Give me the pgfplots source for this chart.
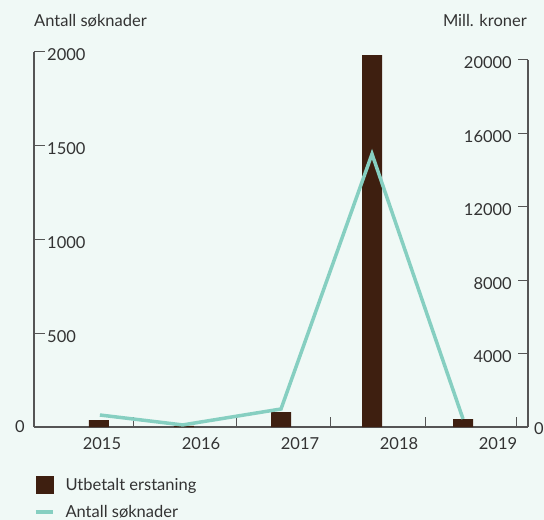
\documentclass[border=0pt]{standalone}
\usepackage{fontspec}
\setmainfont{Lato}
\usepackage{pgfplots}
\pgfplotsset{compat=1.18}
\definecolor{bgc}{HTML}{F0F9F6}
\definecolor{barc}{HTML}{3E1F10}
\definecolor{linec}{HTML}{86CFC1}
\definecolor{axc}{HTML}{555555}
\definecolor{textc}{HTML}{333333}
\newcommand{\fs}{\fontsize{16.5bp}{19bp}\selectfont}
\pgfplotsset{every axis/.append style={font=\fs, /pgf/number format/assume math mode=true,
  tick label style={text=textc, font=\fs}}}
\begin{document}
\begin{tikzpicture}[font=\fs, every node/.append style={text=textc}]
\fill[bgc] (-34bp,-93bp) rectangle (510bp,427bp);
\useasboundingbox (-34bp,-93bp) rectangle (510bp,427bp);
% right axis: bars (Mill. kroner)
\begin{axis}[
  at={(0,0)}, anchor=south west, scale only axis,
  width=494bp, height=367bp,
  xmin=2014.286, xmax=2019.714, ymin=0, ymax=20000,
  axis x line*=bottom, axis y line*=right,
  axis line style={-, axc, line width=1.3bp},
  clip=false,
  tick align=inside, major tick length=10bp,
  tick style={axc, line width=1bp},
  xtick={2015.374,2016.516,2017.549,2018.593,2019.593}, xticklabels={},
  extra x ticks={2015.033,2016.121,2017.209,2018.297,2019.385},
  extra x tick labels={2015,2016,2017,2018,2019},
  extra x tick style={major tick length=0pt, xticklabel style={anchor=north, inner sep=0pt, yshift=-10bp}},
  ytick={4000,8000,12000,16000,20000},
  scaled y ticks=false,
  yticklabel style={anchor=east, inner sep=0pt, xshift=-16bp, yshift=-3bp, /pgf/number format/1000 sep={}},
]
\addplot[ybar, bar width=20bp, fill=barc, draw=none] coordinates {
  (2015,381) (2015.934,60) (2017,817) (2018,20270) (2019,436)
};
\node[anchor=west, inner sep=0pt, xshift=6bp, yshift=-2bp] at (axis cs:2019.714,0) {0};
\end{axis}
% left axis: line (Antall soknader)
\begin{axis}[
  at={(0,0)}, anchor=south west, scale only axis,
  width=494bp, height=375bp,
  xmin=2014.286, xmax=2019.714, ymin=0, ymax=2000,
  axis y line*=left, axis x line=none,
  axis line style={-, axc, line width=1.3bp},
  clip=false,
  tick align=inside, major tick length=11bp,
  tick style={axc, line width=1bp},
  ytick={500,1000,1500,2000},
  yticklabel style={anchor=west, inner sep=0pt, xshift=13bp, yshift=-3bp, /pgf/number format/1000 sep={}},
  legend style={at={(0,0)}, anchor=north west, xshift=0bp, yshift=-49bp,
    draw=none, fill=none, inner sep=0pt, outer sep=0pt, row sep=12bp,
    nodes={inner sep=0pt, text=textc},
    /tikz/every odd column/.append style={column sep=11bp}},
  legend cell align=left,
]
\addlegendimage{legend image code/.code={\fill[barc] (0bp,-8.5bp) rectangle (17bp,8.5bp);}}
\addlegendentry{Utbetalt erstaning}
\addplot[linec, line width=3.5bp, mark=none,
  legend image code/.code={\draw[linec, line width=3.5bp] (0bp,0bp) -- (17bp,0bp);}]
  coordinates {(2015.01,64) (2015.92,11) (2017,96) (2018,1456) (2019,43)};
\addlegendentry{Antall søknader}
\node[anchor=east, inner sep=0pt, xshift=-9bp, yshift=0bp] at (axis cs:2014.286,0) {0};
\end{axis}
\node[anchor=base west, inner sep=0pt] at (0bp,400bp) {Antall søknader};
\node[anchor=base east, inner sep=0pt] at (493bp,400bp) {Mill. kroner};
\end{tikzpicture}
\end{document}
